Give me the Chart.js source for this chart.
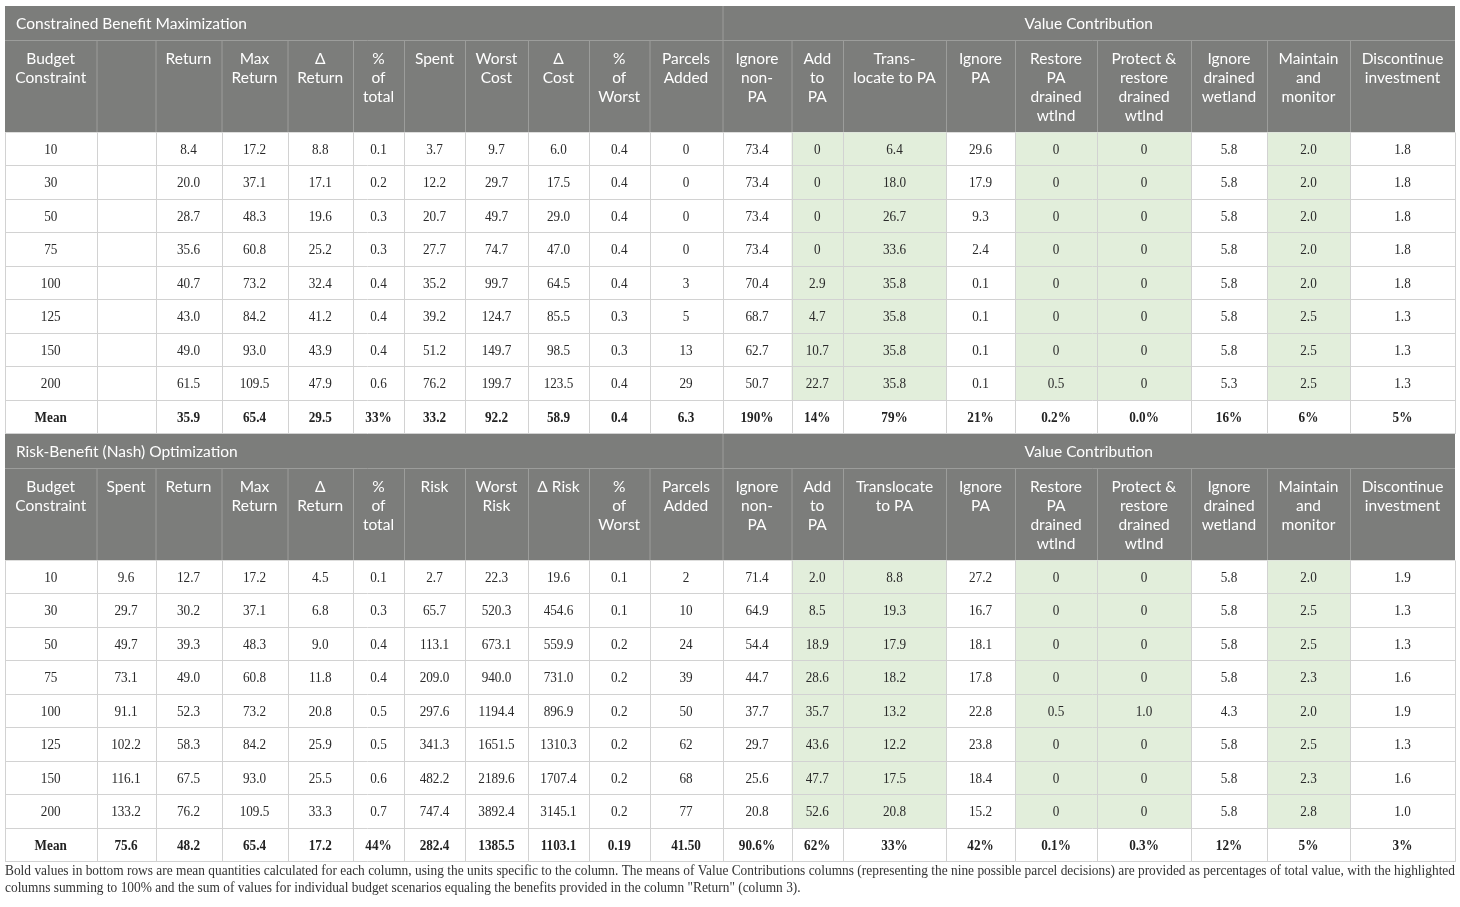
<!DOCTYPE html>
<html><head><meta charset="utf-8">
<script src="https://cdn.jsdelivr.net/npm/chart.js@4.4.1/dist/chart.umd.min.js"></script>
<style>html,body{margin:0;padding:0;background:#fff;} #wrap{width:1460px;height:907px;position:relative;}</style>
</head><body><div id="wrap"><canvas id="c"></canvas></div>
<script>
// ---------- DATA ----------
const budgets = [10, 30, 50, 75, 100, 125, 150, 200];

// Constrained Benefit Maximization
const cbReturn      = [8.4, 20.0, 28.7, 35.6, 40.7, 43.0, 49.0, 61.5];
const cbMaxReturn   = [17.2, 37.1, 48.3, 60.8, 73.2, 84.2, 93.0, 109.5];
const cbDeltaReturn = [8.8, 17.1, 19.6, 25.2, 32.4, 41.2, 43.9, 47.9];
const cbPctTotal    = [0.1, 0.2, 0.3, 0.3, 0.4, 0.4, 0.4, 0.6];
const cbSpent       = [3.7, 12.2, 20.7, 27.7, 35.2, 39.2, 51.2, 76.2];
const cbWorstCost   = [9.7, 29.7, 49.7, 74.7, 99.7, 124.7, 149.7, 199.7];
const cbDeltaCost   = [6.0, 17.5, 29.0, 47.0, 64.5, 85.5, 98.5, 123.5];
const cbPctWorst    = [0.4, 0.4, 0.4, 0.4, 0.4, 0.3, 0.3, 0.4];
const cbParcels     = [0, 0, 0, 0, 3, 5, 13, 29];
const cbIgnoreNonPA = [73.4, 73.4, 73.4, 73.4, 70.4, 68.7, 62.7, 50.7];
const cbAddToPA     = [0, 0, 0, 0, 2.9, 4.7, 10.7, 22.7];
const cbTranslocate = [6.4, 18.0, 26.7, 33.6, 35.8, 35.8, 35.8, 35.8];
const cbIgnorePA    = [29.6, 17.9, 9.3, 2.4, 0.1, 0.1, 0.1, 0.1];
const cbRestorePA   = [0, 0, 0, 0, 0, 0, 0, 0.5];
const cbProtect     = [0, 0, 0, 0, 0, 0, 0, 0];
const cbIgnoreDrain = [5.8, 5.8, 5.8, 5.8, 5.8, 5.8, 5.8, 5.3];
const cbMaintain    = [2.0, 2.0, 2.0, 2.0, 2.0, 2.5, 2.5, 2.5];
const cbDiscontinue = [1.8, 1.8, 1.8, 1.8, 1.8, 1.3, 1.3, 1.3];
const cbMeans = ["Mean", "", "35.9", "65.4", "29.5", "33%", "33.2", "92.2", "58.9", "0.4", "6.3",
                 "190%", "14%", "79%", "21%", "0.2%", "0.0%", "16%", "6%", "5%"];

// Risk-Benefit (Nash) Optimization
const nbSpent       = [9.6, 29.7, 49.7, 73.1, 91.1, 102.2, 116.1, 133.2];
const nbReturn      = [12.7, 30.2, 39.3, 49.0, 52.3, 58.3, 67.5, 76.2];
const nbMaxReturn   = [17.2, 37.1, 48.3, 60.8, 73.2, 84.2, 93.0, 109.5];
const nbDeltaReturn = [4.5, 6.8, 9.0, 11.8, 20.8, 25.9, 25.5, 33.3];
const nbPctTotal    = [0.1, 0.3, 0.4, 0.4, 0.5, 0.5, 0.6, 0.7];
const nbRisk        = [2.7, 65.7, 113.1, 209.0, 297.6, 341.3, 482.2, 747.4];
const nbWorstRisk   = [22.3, 520.3, 673.1, 940.0, 1194.4, 1651.5, 2189.6, 3892.4];
const nbDeltaRisk   = [19.6, 454.6, 559.9, 731.0, 896.9, 1310.3, 1707.4, 3145.1];
const nbPctWorst    = [0.1, 0.1, 0.2, 0.2, 0.2, 0.2, 0.2, 0.2];
const nbParcels     = [2, 10, 24, 39, 50, 62, 68, 77];
const nbIgnoreNonPA = [71.4, 64.9, 54.4, 44.7, 37.7, 29.7, 25.6, 20.8];
const nbAddToPA     = [2.0, 8.5, 18.9, 28.6, 35.7, 43.6, 47.7, 52.6];
const nbTranslocate = [8.8, 19.3, 17.9, 18.2, 13.2, 12.2, 17.5, 20.8];
const nbIgnorePA    = [27.2, 16.7, 18.1, 17.8, 22.8, 23.8, 18.4, 15.2];
const nbRestorePA   = [0, 0, 0, 0, 0.5, 0, 0, 0];
const nbProtect     = [0, 0, 0, 0, 1.0, 0, 0, 0];
const nbIgnoreDrain = [5.8, 5.8, 5.8, 5.8, 4.3, 5.8, 5.8, 5.8];
const nbMaintain    = [2.0, 2.5, 2.5, 2.3, 2.0, 2.5, 2.3, 2.8];
const nbDiscontinue = [1.9, 1.3, 1.3, 1.6, 1.9, 1.3, 1.6, 1.0];
const nbMeans = ["Mean", "75.6", "48.2", "65.4", "17.2", "44%", "282.4", "1385.5", "1103.1", "0.19", "41.50",
                 "90.6%", "62%", "33%", "42%", "0.1%", "0.3%", "12%", "5%", "3%"];

// Header labels
const vcHeaders1 = [["Ignore","non-","PA"],["Add","to","PA"],["Trans-","locate to PA"],["Ignore","PA"],
  ["Restore","PA","drained","wtlnd"],["Protect &","restore","drained","wtlnd"],["Ignore","drained","wetland"],
  ["Maintain","and","monitor"],["Discontinue","investment"]];
const vcHeaders2 = [["Ignore","non-","PA"],["Add","to","PA"],["Translocate","to PA"],["Ignore","PA"],
  ["Restore","PA","drained","wtlnd"],["Protect &","restore","drained","wtlnd"],["Ignore","drained","wetland"],
  ["Maintain","and","monitor"],["Discontinue","investment"]];
const cbHeaders = [["Budget","Constraint"],[],["Return"],["Max","Return"],["\u0394","Return"],["%","of","total"],
  ["Spent"],["Worst","Cost"],["\u0394","Cost"],["%","of","Worst"],["Parcels","Added"]].concat(vcHeaders1);
const nbHeaders = [["Budget","Constraint"],["Spent"],["Return"],["Max","Return"],["\u0394","Return"],["%","of","total"],
  ["Risk"],["Worst","Risk"],["\u0394 Risk"],["%","of","Worst"],["Parcels","Added"]].concat(vcHeaders2);

const cbColumns = [budgets, null, cbReturn, cbMaxReturn, cbDeltaReturn, cbPctTotal, cbSpent, cbWorstCost, cbDeltaCost,
  cbPctWorst, cbParcels, cbIgnoreNonPA, cbAddToPA, cbTranslocate, cbIgnorePA, cbRestorePA, cbProtect,
  cbIgnoreDrain, cbMaintain, cbDiscontinue];
const nbColumns = [budgets, nbSpent, nbReturn, nbMaxReturn, nbDeltaReturn, nbPctTotal, nbRisk, nbWorstRisk, nbDeltaRisk,
  nbPctWorst, nbParcels, nbIgnoreNonPA, nbAddToPA, nbTranslocate, nbIgnorePA, nbRestorePA, nbProtect,
  nbIgnoreDrain, nbMaintain, nbDiscontinue];

const sectionTitles = ["Constrained Benefit Maximization", "Risk-Benefit (Nash) Optimization"];
const groupTitle = "Value Contribution";
const footLines = [
  "Bold values in bottom rows are mean quantities calculated for each column, using the units specific to the column. The means of Value Contributions columns (representing the nine possible parcel decisions) are provided as percentages of total value, with the highlighted",
  "columns summing to 100% and the sum of values for individual budget scenarios equaling the benefits provided in the column \"Return\" (column 3)."
];

// ---------- LAYOUT / STYLE ----------
const colEdges = [5, 96.5, 155.5, 221.5, 287.5, 353, 404, 465, 528, 589, 649.5, 722.5, 791.5, 843, 946, 1015, 1097, 1191, 1267, 1350, 1455];
const intCols = [0, 10];
const greenCols = [12, 13, 15, 16, 18];
const vcStart = 11;
const sectionTops = [6, 434];
const TITLE_H = 34, HEAD_H = 92.5, ROW_H = 33.5;
const HEAD_BG = '#7c7d7b', HEAD_LINE = '#9c9d9b', GRID = '#d2d2d2', GREEN = '#e2eedb', TXT = '#2a2a2a';
const SANS = 'Lato, "Open Sans", sans-serif';
const SERIF = '"Liberation Serif", "DejaVu Serif", serif';

function fmt(v, ci) {
  if (intCols.includes(ci)) return String(v);
  return v === 0 ? '0' : v.toFixed(1);
}

function txt(ctx, s, x, y, font, color, sx, align, base) {
  ctx.save();
  ctx.font = font; ctx.fillStyle = color; ctx.textAlign = align || 'center'; ctx.textBaseline = base || 'middle';
  ctx.translate(x, y); ctx.scale(sx, 1);
  ctx.fillText(s, 0, 0);
  ctx.restore();
}

function drawSection(ctx, si, X, Y) {
  const top = sectionTops[si];
  const headers = si === 0 ? cbHeaders : nbHeaders;
  const cols = si === 0 ? cbColumns : nbColumns;
  const means = si === 0 ? cbMeans : nbMeans;
  const left = colEdges[0], right = colEdges[colEdges.length - 1];
  const hTop = top + TITLE_H, dTop = hTop + HEAD_H;
  // header background
  ctx.fillStyle = HEAD_BG;
  ctx.fillRect(X(left), Y(top), X(right) - X(left), Y(dTop) - Y(top));
  ctx.strokeStyle = HEAD_LINE; ctx.lineWidth = 1;
  ctx.beginPath();
  ctx.moveTo(X(left), Y(hTop) + 0.5); ctx.lineTo(X(right), Y(hTop) + 0.5);
  colEdges.slice(1, -1).forEach((e, i) => {
    const t = (i + 1 === vcStart) ? top : hTop;
    ctx.moveTo(X(e) + 0.5, Y(t)); ctx.lineTo(X(e) + 0.5, Y(dTop));
  });
  ctx.stroke();
  // titles
  txt(ctx, sectionTitles[si], X(left + 11), Y(top + TITLE_H / 2 + 0.5), '15.5px ' + SANS, '#fff', 1, 'left');
  txt(ctx, groupTitle, (X(colEdges[vcStart]) + X(right)) / 2, Y(top + TITLE_H / 2 + 0.5), '15.5px ' + SANS, '#fff', 1, 'center');
  // column headers
  headers.forEach((lines, ci) => {
    const cx = (X(colEdges[ci]) + X(colEdges[ci + 1])) / 2;
    lines.forEach((l, li) => txt(ctx, l, cx, Y(hTop + 18.5 + li * 19), '15.5px ' + SANS, '#fff', 1, 'center'));
  });
  // data backgrounds
  for (let r = 0; r < 9; r++) {
    const y0 = dTop + r * ROW_H;
    ctx.fillStyle = '#fff';
    ctx.fillRect(X(left), Y(y0), X(right) - X(left), Y(y0 + ROW_H) - Y(y0));
    if (r < 8) {
      greenCols.forEach(ci => {
        ctx.fillStyle = GREEN;
        ctx.fillRect(X(colEdges[ci]), Y(y0), X(colEdges[ci + 1]) - X(colEdges[ci]), Y(y0 + ROW_H) - Y(y0));
      });
    }
  }
  // grid
  ctx.strokeStyle = GRID; ctx.lineWidth = 1;
  ctx.beginPath();
  for (let r = 1; r <= 9; r++) {
    const y = Math.round(Y(dTop + r * ROW_H)) - 0.5;
    ctx.moveTo(X(left), y); ctx.lineTo(X(right), y);
  }
  colEdges.forEach(e => { ctx.moveTo(Math.round(X(e)) + 0.5, Y(dTop)); ctx.lineTo(Math.round(X(e)) + 0.5, Y(dTop + 9 * ROW_H)); });
  ctx.stroke();
  // values
  for (let r = 0; r < 8; r++) {
    const cy = Y(dTop + r * ROW_H + ROW_H / 2 + 0.5);
    cols.forEach((arr, ci) => {
      if (!arr) return;
      const cx = (X(colEdges[ci]) + X(colEdges[ci + 1])) / 2;
      txt(ctx, fmt(arr[r], ci), cx, cy, '15px ' + SERIF, TXT, 0.88, 'center');
    });
  }
  const my = Y(dTop + 8 * ROW_H + ROW_H / 2 + 0.5);
  means.forEach((m, ci) => {
    if (!m) return;
    const cx = (X(colEdges[ci]) + X(colEdges[ci + 1])) / 2;
    txt(ctx, m, cx, my, 'bold 15px ' + SERIF, '#222', 0.88, 'center');
  });
}

const tablePlugin = {
  id: 'tablePlugin',
  afterDraw(chart) {
    const ctx = chart.ctx, xs = chart.scales.x, ys = chart.scales.y;
    const X = v => xs.getPixelForValue(v), Y = v => ys.getPixelForValue(v);
    ctx.save();
    drawSection(ctx, 0, X, Y);
    drawSection(ctx, 1, X, Y);
    // footnote
    ctx.font = '15px ' + SERIF;
    const w0 = ctx.measureText(footLines[0]).width;
    const sx = (X(colEdges[colEdges.length - 1]) - X(colEdges[0])) / w0;
    txt(ctx, footLines[0], X(colEdges[0]), Y(874.5), '15px ' + SERIF, '#333', sx, 'left', 'alphabetic');
    txt(ctx, footLines[1], X(colEdges[0]), Y(891.5), '15px ' + SERIF, '#333', sx, 'left', 'alphabetic');
    ctx.restore();
  }
};

new Chart(document.getElementById('c'), {
  type: 'scatter',
  data: { datasets: [] },
  options: {
    responsive: true, maintainAspectRatio: false, animation: false,
    layout: { padding: 0 },
    plugins: { legend: { display: false }, tooltip: { enabled: false } },
    scales: {
      x: { type: 'linear', min: 0, max: 1460, display: false },
      y: { type: 'linear', min: 0, max: 907, reverse: true, display: false }
    }
  },
  plugins: [tablePlugin]
});
</script></body></html>
